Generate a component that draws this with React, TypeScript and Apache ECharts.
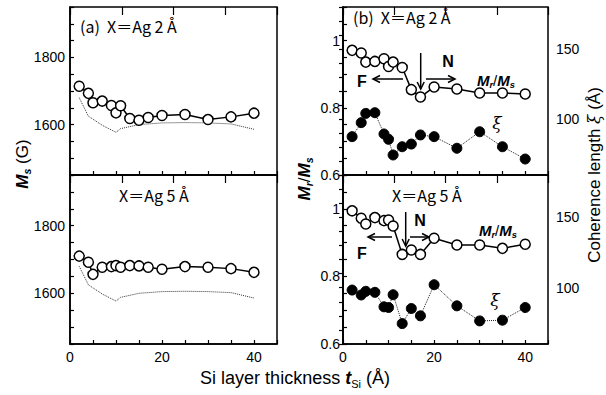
import React, { useEffect, useRef } from 'react';
import * as echarts from 'echarts';

// Si layer thickness (Å)
const thickness = [2, 4, 5, 7, 9, 10, 11, 13, 15, 17, 20, 25, 30, 35, 40];
// (a) Ms (G)
const msAg2 = [1714, 1693, 1665, 1670, 1657, 1635, 1656, 1618, 1613, 1621, 1627, 1630, 1615, 1623, 1634];
const msAg5 = [1710, 1692, 1656, 1677, 1679, 1682, 1677, 1682, 1681, 1677, 1671, 1679, 1677, 1673, 1662];
// dotted reference curve
const refThickness = [2, 4, 7, 10, 11, 15, 20, 25, 30, 35, 40];
const msRef = [1680, 1625, 1598, 1577, 1588, 1600, 1605, 1606, 1605, 1602, 1586];
// (b) Mr/Ms and coherence length
const mrAg2 = [0.971, 0.963, 0.936, 0.938, 0.946, 0.923, 0.936, 0.92, 0.854, 0.832, 0.862, 0.856, 0.844, 0.844, 0.841];
const xiAg2 = [87.4, 97.4, 104, 104.5, 89.3, 85.5, 74.3, 80.2, 82.1, 88.6, 87.4, 79.1, 90.9, 80.2, 71.4];
const mrAg5 = [0.994, 0.972, 0.955, 0.974, 0.965, 0.967, 0.949, 0.865, 0.878, 0.865, 0.913, 0.893, 0.893, 0.883, 0.895];
const xiAg5 = [98.3, 94.8, 97.4, 96.7, 86.4, 85.9, 95, 74.5, 85.2, 80, 102.1, 87.1, 76.4, 76.9, 85.9];

// tick labels
const xLabels = [0, 20, 40];
const msLabels = [1600, 1800];
const ratioLabels = [0.6, 0.8, 1];
const xiLabels = [100, 150];

const FONT = '"Liberation Sans", Arial, sans-serif';
const JP = '"Noto Sans CJK JP", "Liberation Sans", sans-serif';

const near = (v: number, arr: number[]) => arr.some((a) => Math.abs(a - v) < 1e-6);
const zip = (xs: number[], ys: number[]) => xs.map((x, i) => [x, ys[i]]);

const grids = [
  { left: 70, top: 7, width: 207, height: 168 },
  { left: 70, top: 175, width: 207, height: 169 },
  { left: 343, top: 7, width: 205, height: 168 },
  { left: 343, top: 175, width: 205, height: 169 },
];

function arrow(x1: number, y1: number, x2: number, y2: number) {
  const head = 7;
  const ang = Math.atan2(y2 - y1, x2 - x1);
  const hx = x2 - head * Math.cos(ang);
  const hy = y2 - head * Math.sin(ang);
  const w = 3.5;
  const px = -Math.sin(ang) * w;
  const py = Math.cos(ang) * w;
  return [
    { type: 'line', shape: { x1, y1, x2, y2 }, style: { stroke: '#000', lineWidth: 1.5 } },
    {
      type: 'polyline',
      shape: { points: [[hx + px, hy + py], [x2, y2], [hx - px, hy - py]] },
      style: { stroke: '#000', lineWidth: 1.5, fill: null },
    },
  ];
}

const txt = (text: string, x: number, y: number, extra: any = {}) => ({
  type: 'text',
  x,
  y,
  style: {
    text,
    fill: '#000',
    fontFamily: FONT,
    fontSize: 16,
    verticalAlign: 'middle',
    align: 'left',
    ...extra,
  },
});

const ratioRich = (size: number) => ({
  m: { fontSize: size, fontStyle: 'italic', fontFamily: FONT, fontWeight: 'bold', lineHeight: size + 4 },
  s: { fontSize: size * 0.62, fontStyle: 'italic', fontFamily: FONT, fontWeight: 'bold', verticalAlign: 'bottom', lineHeight: size * 0.62 },
  n: { fontSize: size, fontFamily: FONT, lineHeight: size + 4 },
});

export default function App() {
  const ref = useRef<HTMLDivElement>(null);
  useEffect(() => {
    if (!ref.current) return;
    const chart = echarts.init(ref.current, undefined, { renderer: 'svg' });

    const xAxes: any[] = [];
    grids.forEach((_, i) => {
      const bottom = i === 1 || i === 3;
      xAxes.push({
        type: 'value',
        gridIndex: i,
        min: 0,
        max: 45,
        interval: 5,
        axisLine: { show: true, lineStyle: { color: '#000', width: 1.5 } },
        axisTick: { show: true, inside: true, length: 4, lineStyle: { color: '#000', width: 1.2 } },
        splitLine: { show: false },
        axisLabel: {
          show: bottom,
          margin: 6,
          color: '#000',
          fontFamily: FONT,
          fontSize: 14,
          formatter: (v: number) => (near(v, xLabels) ? String(v) : ''),
        },
      });
    });
    grids.forEach((_, i) => {
      xAxes.push({
        type: 'value',
        gridIndex: i,
        min: 0,
        max: 40,
        interval: 10,
        axisLine: { show: false },
        axisTick: { show: true, inside: true, length: 8, lineStyle: { color: '#000', width: 1.2 } },
        splitLine: { show: false },
        axisLabel: { show: false },
      });
    });

    const axisCommon = {
      axisLine: { show: true, lineStyle: { color: '#000', width: 1.5 } },
      axisTick: { show: true, inside: true, length: 4, lineStyle: { color: '#000', width: 1.2 } },
      splitLine: { show: false },
    };
    const msAxis = (g: number) => ({
      type: 'value',
      gridIndex: g,
      min: 1450,
      max: 1950,
      interval: 50,
      ...axisCommon,
      axisLabel: {
        margin: 5,
        color: '#000',
        fontFamily: FONT,
        fontSize: 14,
        formatter: (v: number) => (near(v, msLabels) ? String(v) : ''),
      },
    });
    const ratioAxis = (g: number) => ({
      type: 'value',
      gridIndex: g,
      min: 0.6,
      max: 1.1,
      interval: 0.05,
      ...axisCommon,
      axisLabel: {
        margin: 3,
        color: '#000',
        fontFamily: FONT,
        fontSize: 14,
        formatter: (v: number) => (near(v, ratioLabels) ? String(Math.round(v * 10) / 10) : ''),
      },
    });
    const xiAxis = (g: number) => ({
      type: 'value',
      gridIndex: g,
      position: 'right',
      min: 60,
      max: 180,
      interval: 10,
      ...axisCommon,
      axisLabel: {
        margin: 8,
        color: '#000',
        fontFamily: FONT,
        fontSize: 14,
        formatter: (v: number) => (near(v, xiLabels) ? String(v) : ''),
      },
    });

    const openLine = (x: number, y: number, data: number[][]) => ({
      type: 'line',
      xAxisIndex: x,
      yAxisIndex: y,
      data,
      symbol: 'circle',
      symbolSize: 10,
      itemStyle: { color: '#fff', borderColor: '#000', borderWidth: 1.5 },
      lineStyle: { color: '#000', width: 1.5 },
      z: 3,
    });
    const filledLine = (x: number, y: number, data: number[][]) => ({
      type: 'line',
      xAxisIndex: x,
      yAxisIndex: y,
      data,
      symbol: 'circle',
      symbolSize: 10,
      itemStyle: { color: '#000', borderColor: '#000', borderWidth: 1 },
      lineStyle: { color: '#222', width: 1, type: 'dotted' },
      z: 3,
    });
    const refLine = (x: number, y: number) => ({
      type: 'line',
      xAxisIndex: x,
      yAxisIndex: y,
      data: zip(refThickness, msRef),
      symbol: 'none',
      lineStyle: { color: '#333', width: 1, type: 'dotted' },
      z: 2,
    });

    const graphic: any[] = [
      txt('(a)  X＝Ag 2 Å', 80, 26, { fontFamily: JP, fontSize: 16 }),
      txt('X＝Ag 5 Å', 119, 195, { fontFamily: JP, fontSize: 16 }),
      txt('(b)  X＝Ag 2 Å', 353, 17, { fontFamily: JP, fontSize: 16 }),
      txt('X＝Ag 5 Å', 392, 195, { fontFamily: JP, fontSize: 16 }),
      ...arrow(420.7, 53, 420.7, 89),
      ...arrow(426, 79, 455, 79),
      ...arrow(403, 79, 373, 79),
      ...arrow(405.7, 212, 405.7, 246),
      ...arrow(410, 237, 429, 237),
      ...arrow(392, 237, 368, 237),
      txt('F', 362, 81, { fontWeight: 'bold', align: 'center', fontSize: 16 }),
      txt('N', 448, 61, { fontWeight: 'bold', align: 'center', fontSize: 16 }),
      txt('F', 362, 253, { fontWeight: 'bold', align: 'center', fontSize: 16 }),
      txt('N', 420, 220, { fontWeight: 'bold', align: 'center', fontSize: 16 }),
      {
        type: 'text', x: 477, y: 80,
        style: { text: '{m|M}{s|r}{n|/}{m|M}{s|s}', rich: ratioRich(15), verticalAlign: 'middle', align: 'left', fill: '#000' },
      },
      {
        type: 'text', x: 479, y: 230,
        style: { text: '{m|M}{s|r}{n|/}{m|M}{s|s}', rich: ratioRich(15), verticalAlign: 'middle', align: 'left', fill: '#000' },
      },
      txt('ξ', 497, 123, { fontStyle: 'italic', align: 'center', fontSize: 17, fontFamily: '"DejaVu Serif", serif' }),
      txt('ξ', 495, 300, { fontStyle: 'italic', align: 'center', fontSize: 17, fontFamily: '"DejaVu Serif", serif' }),
      // axis titles
      {
        type: 'text', x: 22, y: 164, rotation: Math.PI / 2,
        style: { text: '{m|M}{s|s}{n| (G)}', rich: ratioRich(17), align: 'center', verticalAlign: 'middle', fill: '#000' },
      },
      {
        type: 'text', x: 304, y: 179, rotation: Math.PI / 2,
        style: { text: '{m|M}{s|r}{n|/}{m|M}{s|s}', rich: ratioRich(17), align: 'center', verticalAlign: 'middle', fill: '#000' },
      },
      {
        type: 'text', x: 594, y: 175, rotation: Math.PI / 2,
        style: {
          text: 'Coherence length {x|ξ} (Å)',
          fontFamily: FONT, fontSize: 17, fill: '#000', align: 'center', verticalAlign: 'middle',
          rich: { x: { fontFamily: '"DejaVu Serif", serif', fontStyle: 'italic', fontSize: 17 } },
        },
      },
      {
        type: 'text', x: 295, y: 378,
        style: {
          text: 'Si layer thickness {t|t}{s|Si}{n| (Å)}',
          fontFamily: FONT, fontSize: 18, fill: '#000', align: 'center', verticalAlign: 'middle',
          rich: {
            t: { fontFamily: FONT, fontStyle: 'italic', fontWeight: 'bold', fontSize: 18, lineHeight: 22 },
            s: { fontFamily: FONT, fontSize: 11, verticalAlign: 'bottom', lineHeight: 11 },
            n: { fontFamily: FONT, fontSize: 18, lineHeight: 22 },
          },
        },
      },
    ];

    chart.setOption({
      animation: false,
      backgroundColor: '#fff',
      grid: grids.map((g) => ({ ...g, show: true, borderColor: '#000', borderWidth: 1.5, containLabel: false })),
      xAxis: xAxes,
      yAxis: [msAxis(0), msAxis(1), ratioAxis(2), xiAxis(2), ratioAxis(3), xiAxis(3)],
      series: [
        refLine(0, 0),
        openLine(0, 0, zip(thickness, msAg2)),
        refLine(1, 1),
        openLine(1, 1, zip(thickness, msAg5)),
        filledLine(2, 3, zip(thickness, xiAg2)),
        openLine(2, 2, zip(thickness, mrAg2)),
        filledLine(3, 5, zip(thickness, xiAg5)),
        openLine(3, 4, zip(thickness, mrAg5)),
      ],
      graphic,
    });
    return () => chart.dispose();
  }, []);
  return (
    <div
      ref={ref}
      style={{ position: 'fixed', left: 0, top: 0, width: 606, height: 395, background: '#fff' }}
    />
  );
}
